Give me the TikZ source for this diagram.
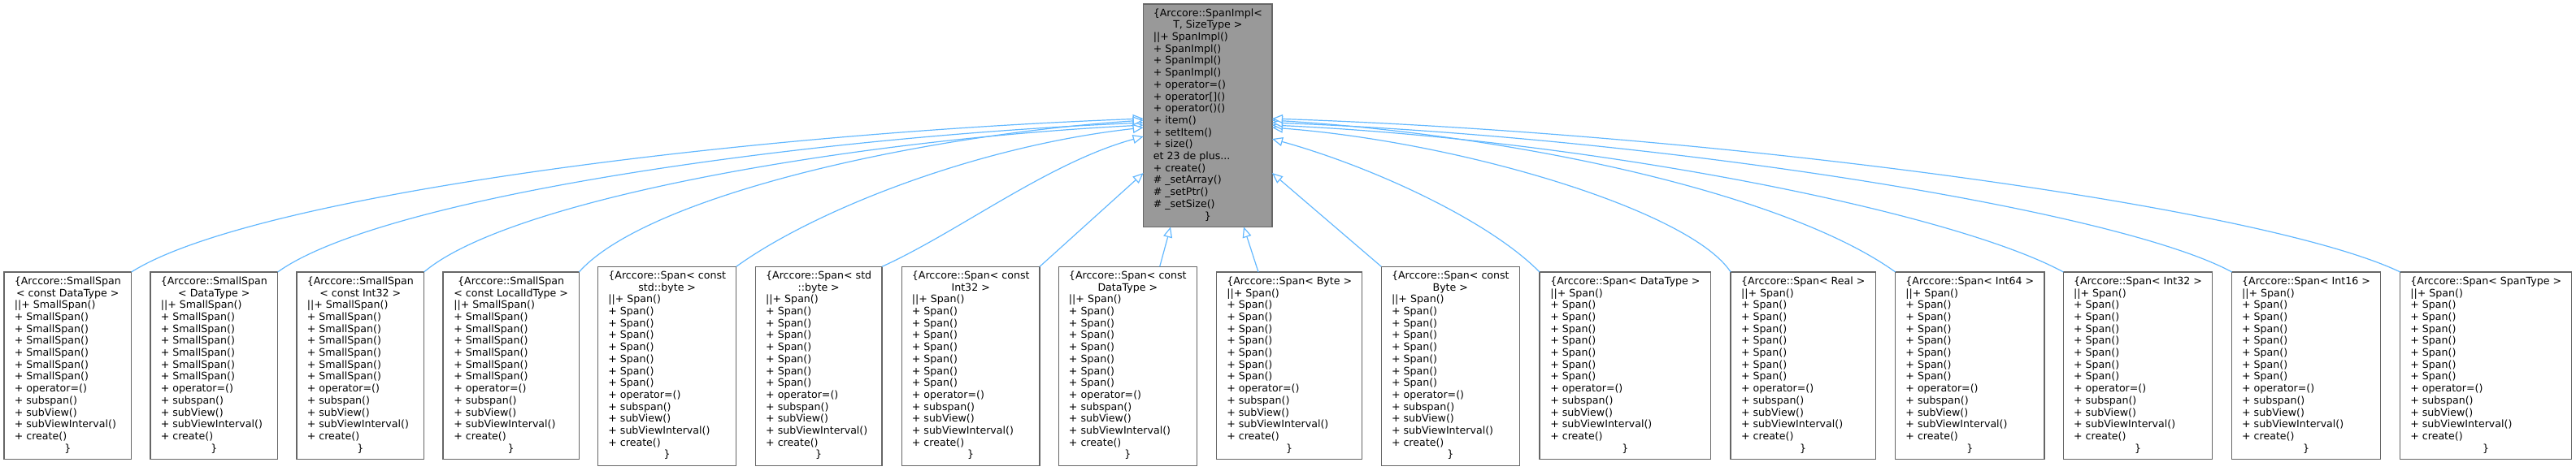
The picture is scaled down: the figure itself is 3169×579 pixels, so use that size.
\documentclass[tikz,border=0pt]{standalone}
\usepackage{fontspec}
\setmainfont{DejaVu Sans}
\usetikzlibrary{arrows.meta}
\definecolor{edgeblue}{HTML}{63B8FF}
\definecolor{boxline}{HTML}{666666}
\definecolor{mainfill}{HTML}{999999}
\newcommand\cl[1]{\multicolumn{1}{@{}c@{}}{#1}}
\newcommand\ssm{||+ SmallSpan()\\ + SmallSpan()\\ + SmallSpan()\\ + SmallSpan()\\ + SmallSpan()\\ + SmallSpan()\\ + SmallSpan()\\ + operator=()\\ + subspan()\\ + subView()\\ + subViewInterval()\\ + create()\\ \cl{\}}}
\newcommand\spm{||+ Span()\\ + Span()\\ + Span()\\ + Span()\\ + Span()\\ + Span()\\ + Span()\\ + Span()\\ + operator=()\\ + subspan()\\ + subView()\\ + subViewInterval()\\ + create()\\ \cl{\}}}
\newcommand\ssbox[2]{\begin{tabular}{@{}l@{}}\cl{\{Arccore::SmallSpan}\\ \cl{#2}\\ \ssm\end{tabular}}
\newcommand\sptwo[2]{\begin{tabular}{@{}l@{}}\cl{#1}\\ \cl{#2}\\ \spm\end{tabular}}
\newcommand\spone[1]{\begin{tabular}{@{}l@{}}\cl{#1}\\ \spm\end{tabular}}
\begin{document}
\begin{tikzpicture}[x=1pt,y=-1pt,
  cls/.style={draw=boxline, fill=white, line width=1.3pt, inner sep=0pt, outer sep=0pt,
    font=\fontsize{12.6}{14.7}\selectfont},
  mainbox/.style={cls, fill=mainfill},
  inh/.style={draw=edgeblue, line width=1.2pt, -{Triangle[length=13pt,width=11pt,fill=white]}}]
\useasboundingbox (0,0) rectangle (3169,579);
% parent
\node[mainbox, minimum width=158.3pt, minimum height=274.3pt] (p) at (1485.8,142.2)
 {\begin{tabular}{@{}l@{}}\cl{\{Arccore::SpanImpl<}\\ \cl{T, SizeType >}\\
 ||+ SpanImpl()\\ + SpanImpl()\\ + SpanImpl()\\ + SpanImpl()\\ + operator=()\\ + operator[]()\\ + operator()()\\ + item()\\ + setItem()\\ + size()\\ et 23 de plus...\\ + create()\\ \# \_setArray()\\ \# \_setPtr()\\ \# \_setSize()\\ \cl{\}}\end{tabular}};
% children
\node[cls, minimum width=156.7pt, minimum height=230.7pt] (c1) at (83.3,450.3) {\ssbox{}{< const DataType >}};
\node[cls, minimum width=156.7pt, minimum height=230.7pt] (c2) at (263.3,450.3) {\ssbox{}{< DataType >}};
\node[cls, minimum width=156.7pt, minimum height=230.7pt] (c3) at (443.3,450.3) {\ssbox{}{< const Int32 >}};
\node[cls, minimum width=167.3pt, minimum height=230.7pt] (c4) at (628.7,450.3) {\ssbox{}{< const LocalIdType >}};
\node[cls, minimum width=170pt, minimum height=245pt] (c5) at (820.7,450.8) {\sptwo{\{Arccore::Span< const}{std::byte >}};
\node[cls, minimum width=155.7pt, minimum height=245pt] (c6) at (1007.2,450.8) {\sptwo{\{Arccore::Span< std}{::byte >}};
\node[cls, minimum width=169.7pt, minimum height=245pt] (c7) at (1194.2,450.8) {\sptwo{\{Arccore::Span< const}{Int32 >}};
\node[cls, minimum width=170pt, minimum height=245pt] (c8) at (1387.3,450.8) {\sptwo{\{Arccore::Span< const}{DataType >}};
\node[cls, minimum width=179pt, minimum height=230.7pt] (c9) at (1586.2,450.3) {\spone{\{Arccore::Span< Byte >}};
\node[cls, minimum width=170pt, minimum height=245pt] (c10) at (1784.3,450.8) {\sptwo{\{Arccore::Span< const}{Byte >}};
\node[cls, minimum width=210.7pt, minimum height=230.7pt] (c11) at (1999.3,450.3) {\spone{\{Arccore::Span< DataType >}};
\node[cls, minimum width=178.3pt, minimum height=230.7pt] (c12) at (2218.2,450.3) {\spone{\{Arccore::Span< Real >}};
\node[cls, minimum width=183.3pt, minimum height=230.7pt] (c13) at (2423.3,450.3) {\spone{\{Arccore::Span< Int64 >}};
\node[cls, minimum width=183.3pt, minimum height=230.7pt] (c14) at (2630,450.3) {\spone{\{Arccore::Span< Int32 >}};
\node[cls, minimum width=182.7pt, minimum height=230.7pt] (c15) at (2837,450.3) {\spone{\{Arccore::Span< Int16 >}};
\node[cls, minimum width=211pt, minimum height=230.7pt] (c16) at (3058.2,450.3) {\spone{\{Arccore::Span< SpanType >}};
% edges
\draw[inh] (c1.north east) .. controls (311,240.5) and (908.7,164.9) .. ([yshift=-141pt]p.north west);
\draw[inh] (c2.north east) .. controls (469.5,243) and (980.7,169.4) .. ([yshift=-146pt]p.north west);
\draw[inh] (c3.north east) .. controls (627.9,244.5) and (1052.7,172.1) .. ([yshift=-149pt]p.north west);
\draw[inh] (c4.north east) .. controls (795.6,241.5) and (1128.9,166.7) .. ([yshift=-143pt]p.north west);
\draw[inh] (c5.north east) .. controls (1000,260) and (1200,180) .. ([yshift=-152pt]p.north west);
\draw[inh] (c6.north east) .. controls (1180,285) and (1290,200) .. ([yshift=-163pt]p.north west);
\draw[inh] (c7.north east) -- ([yshift=-208pt]p.north west);
\draw[inh] ([xshift=39.4pt]c8.north) -- ([xshift=33.35pt]p.south west);
\draw[inh] ([xshift=-38.2pt]c9.north) -- ([xshift=123.35pt]p.south west);
\draw[inh] (c10.north west) -- ([yshift=-208pt]p.north east);
\draw[inh] (c11.north west) .. controls (1830,270) and (1684,204) .. ([yshift=-166pt]p.north east);
\draw[inh] (c12.north west) .. controls (2080,260) and (1800,175) .. ([yshift=-152pt]p.north east);
\draw[inh] (c13.north west) .. controls (2200,240) and (1872,167) .. ([yshift=-143pt]p.north east);
\draw[inh] (c14.north west) .. controls (2400,260) and (1954,172) .. ([yshift=-149pt]p.north east);
\draw[inh] (c15.north west) .. controls (2604,258) and (2037,169) .. ([yshift=-146pt]p.north east);
\draw[inh] (c16.north west) .. controls (2786,255) and (2120,165) .. ([yshift=-141pt]p.north east);
\end{tikzpicture}
\end{document}
